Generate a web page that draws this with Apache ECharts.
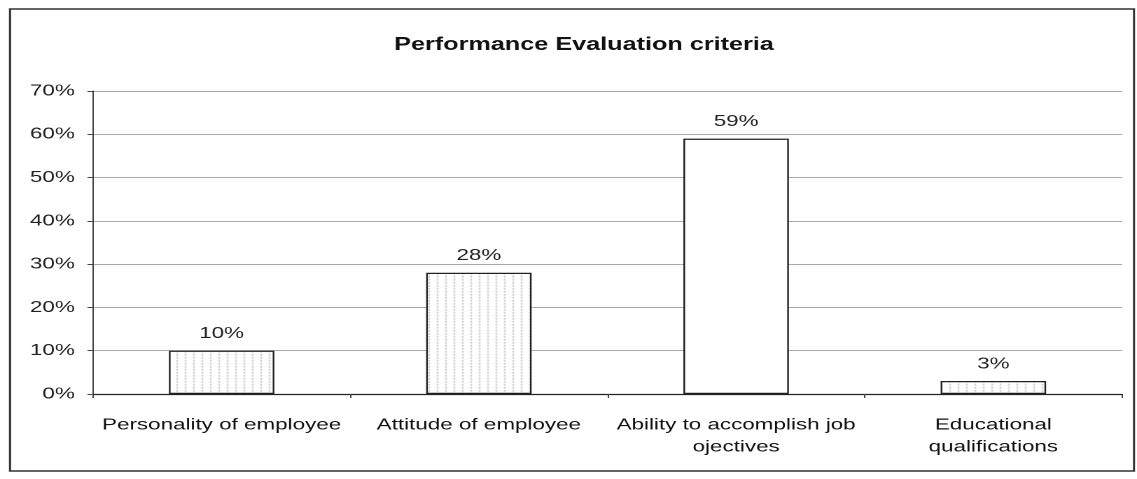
<!DOCTYPE html>
<html><head><meta charset="utf-8">
<script src="https://cdn.jsdelivr.net/npm/echarts@6/dist/echarts.min.js"></script>
<style>
html,body{margin:0;padding:0;background:#fff;overflow:hidden}
#wrap{width:1137px;height:479px;overflow:hidden}
#c{width:812px;height:479px;transform-origin:0 0;transform:scaleX(1.40025)}
</style>
</head><body><div id="wrap"><div id="c"></div></div>
<script>
const categories = ['Personality of employee', 'Attitude of employee', 'Ability to accomplish job\nojectives', 'Educational\nqualifications'];
const values = [10, 28, 59, 3];
const yTicks = [0, 10, 20, 30, 40, 50, 60, 70];
const titleText = 'Performance Evaluation criteria';

const S = 1137 / 812; // horizontal stretch of the scanned original

function makePattern(){
  const c = document.createElement('canvas');
  c.width = 6; c.height = 3;
  const g = c.getContext('2d');
  g.fillStyle = '#fff'; g.fillRect(0,0,6,3);
  g.fillStyle = '#b4b4b4';
  g.fillRect(0,0,1,1);
  g.fillStyle = '#d4d4d4';
  g.fillRect(0,1,1,1);
  return c;
}
const pat = {image: makePattern(), repeat: 'repeat'};
const barColors = [pat, pat, '#fff', pat];
const font = 'Liberation Sans, Arial, Helvetica, sans-serif';

const chart = echarts.init(document.getElementById('c'), null, {renderer:'canvas', devicePixelRatio:2});
chart.setOption({
  animation:false,
  backgroundColor:'#fff',
  title:{text:titleText,left:577/S,top:31,textAlign:'center',
    textStyle:{fontFamily:font,fontSize:18,fontWeight:'bold',color:'#111'}},
  graphic:[{type:'rect',shape:{x:10/S,y:9,width:1124/S,height:462},
    style:{fill:'none',stroke:'#333',lineWidth:1.5},silent:true}],
  grid:{left:93/S,right:15/S,top:91,bottom:85},
  xAxis:{type:'category',data:categories,
    axisLine:{lineStyle:{color:'#222',width:1.2}},
    axisTick:{show:true,length:4,lineStyle:{color:'#444'}},
    axisLabel:{fontFamily:font,fontSize:16,color:'#111',margin:20,lineHeight:22,interval:0}},
  yAxis:{type:'value',min:0,max:70,interval:10,
    axisLine:{show:true,lineStyle:{color:'#444'}},
    axisTick:{show:true,length:4,lineStyle:{color:'#444'}},
    splitLine:{lineStyle:{color:'#a8a8a8',width:1}},
    axisLabel:{fontFamily:font,fontSize:16,color:'#222',margin:13,
      formatter:v=>yTicks.includes(v)?v+'%':''}},
  series:[{type:'bar',barCategoryGap:'59%',
    data:values.map((v,i)=>({value:v,itemStyle:{color:barColors[i]}})),
    itemStyle:{borderColor:'#222',borderWidth:1.2},
    label:{show:true,position:'top',distance:9,formatter:p=>p.value+'%',
      fontFamily:font,fontSize:16,color:'#222'}}]
});
</script></body></html>
